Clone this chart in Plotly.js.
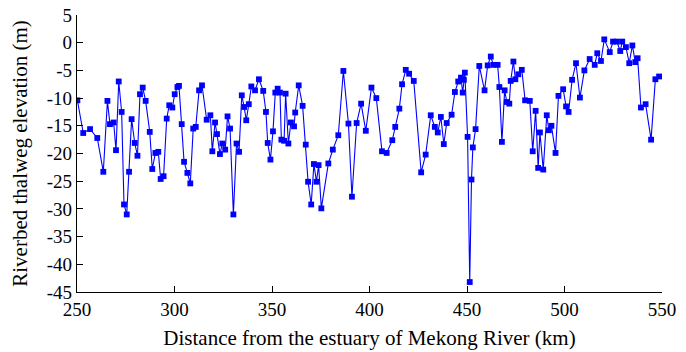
<!DOCTYPE html>
<html>
<head>
<meta charset="utf-8">
<script src="https://cdn.plot.ly/plotly-3.0.1.min.js"></script>
<style>html,body{margin:0;padding:0;background:#fff;}#chart{width:686px;height:352px;}</style>
</head>
<body>
<div id="chart"></div>
<script>
const distanceKm = [
250.2,253.2,256.7,260.4,263.5,265.6,266.9,268.8,270.0,271.4,272.9,274.1,275.5,276.7,278.0,279.6,281.0,282.3,283.7,285.2,
287.3,288.6,290.2,291.7,292.9,294.4,296.0,297.3,298.9,300.1,301.5,302.3,303.7,304.9,306.6,308.1,309.6,310.9,312.6,314.1,
316.5,318.4,319.4,320.8,321.8,323.3,324.5,326.0,327.2,328.5,330.2,331.8,333.1,334.5,335.7,336.8,338.1,339.4,341.3,343.3,
345.5,346.9,347.8,349.2,350.5,351.7,352.9,354.1,354.8,356.2,357.0,358.4,359.7,361.3,361.9,363.7,365.7,367.3,368.5,370.1,
371.5,372.8,373.9,375.3,378.9,381.2,384.0,386.6,389.2,391.0,393.4,395.7,398.1,401.0,403.5,406.4,408.8,411.7,413.2,415.3,
416.7,418.6,420.3,422.7,426.5,428.8,431.4,433.5,435.0,436.6,438.1,439.6,442.1,443.8,445.5,446.9,447.8,448.4,448.9,450.3,
451.4,452.3,453.0,454.4,456.3,459.0,460.6,462.2,463.5,465.7,466.6,467.9,469.3,470.4,471.7,472.4,473.8,474.8,476.3,478.1,
479.8,482.2,483.7,485.2,486.5,487.4,489.1,490.9,492.0,493.3,495.4,496.9,499.3,500.8,502.1,503.9,505.9,507.9,510.2,512.9,
515.5,516.8,518.7,520.4,523.2,524.9,526.8,528.6,529.6,531.5,533.2,534.8,536.3,537.5,539.2,541.6,544.4,546.6,548.5
];
const elevationM = [
-10.4,-16.3,-15.6,-17.2,-23.3,-10.5,-14.7,-14.4,-19.4,-7.0,-12.5,-29.2,-31.0,-23.3,-13.8,-18.1,-20.4,-9.3,-8.1,-10.5,
-16.1,-22.8,-19.9,-19.7,-24.6,-24.1,-13.7,-11.3,-11.7,-9.3,-8.0,-7.8,-14.7,-21.5,-23.5,-25.4,-15.5,-15.2,-8.6,-7.7,
-13.9,-13.1,-19.6,-14.4,-16.5,-20.1,-18.2,-19.3,-13.3,-15.5,-31.0,-18.2,-19.7,-9.5,-11.6,-14.0,-11.1,-7.9,-8.6,-6.6,
-8.7,-12.5,-18.1,-21.1,-16.0,-9.0,-8.3,-9.0,-17.5,-17.7,-9.2,-18.2,-14.4,-15.1,-12.6,-7.7,-11.4,-18.4,-25.1,-29.2,
-21.9,-25.1,-22.1,-29.9,-21.8,-19.3,-16.7,-5.1,-14.6,-27.8,-14.5,-11.0,-15.9,-8.1,-10.0,-19.6,-19.9,-17.6,-15.2,-11.9,
-7.5,-4.9,-5.6,-6.9,-23.4,-20.2,-13.1,-15.2,-16.2,-13.4,-18.3,-14.5,-13.0,-8.9,-7.0,-6.3,-9.0,-6.7,-5.4,-17.0,
-43.2,-24.7,-18.9,-15.6,-4.2,-8.6,-4.1,-2.5,-4.0,-4.0,-8.0,-17.9,-8.6,-10.7,-11.0,-6.9,-3.4,-6.6,-5.7,-4.9,
-10.4,-10.5,-19.6,-12.3,-22.6,-16.2,-22.9,-13.1,-15.8,-15.0,-19.9,-9.6,-8.4,-11.5,-12.5,-6.7,-3.7,-9.9,-5.0,-2.95,
-4.0,-1.9,-3.3,0.6,-1.7,0.2,0.2,-1.5,0.2,-0.8,-3.7,-0.5,-3.5,-2.8,-11.7,-11.1,-17.5,-6.6,-6.1
];
const xTickVals = [250,300,350,400,450,500,550];
const xTickText = ['250','300','350','400','450','500','550'];
const yTickVals = [5,0,-5,-10,-15,-20,-25,-30,-35,-40,-45];
const yTickText = ['5','0','-5','-10','-15','-20','-25','-30','-35','-40','-45'];
const xTitle = 'Distance from the estuary of Mekong River (km)';
const yTitle = 'Riverbed thalweg elevation (m)';

const font = 'Liberation Serif, Times New Roman, serif';
Plotly.newPlot('chart', [{
  x: distanceKm, y: elevationM, type: 'scatter', mode: 'lines+markers',
  line: {color: '#0000ff', width: 1.1},
  marker: {symbol: 'square', size: 5.8, color: '#0000ff'},
  hoverinfo: 'skip'
}], {
  width: 686, height: 352,
  margin: {l: 77, r: 24, t: 15, b: 60},
  paper_bgcolor: '#fff', plot_bgcolor: '#fff',
  showlegend: false,
  font: {family: font, size: 19, color: '#000'},
  xaxis: {
    range: [250, 550], tickvals: xTickVals, ticktext: xTickText,
    ticks: 'inside', ticklen: 6, tickwidth: 1, tickcolor: '#000',
    showline: true, linecolor: '#000', linewidth: 1.2, mirror: false,
    showgrid: false, zeroline: false,
    tickfont: {family: font, size: 19, color: '#000'},
    title: {text: xTitle, font: {family: font, size: 21, color: '#000'}, standoff: 11}
  },
  yaxis: {
    range: [-45, 5], tickvals: yTickVals, ticktext: yTickText,
    ticks: 'inside', ticklen: 6, tickwidth: 1, tickcolor: '#000',
    showline: true, linecolor: '#000', linewidth: 1.2, mirror: false,
    showgrid: false, zeroline: false,
    tickfont: {family: font, size: 19, color: '#000'},
    title: {text: yTitle, font: {family: font, size: 21, color: '#000'}, standoff: 13}
  }
}, {displayModeBar: false, staticPlot: true});
</script>
</body>
</html>
